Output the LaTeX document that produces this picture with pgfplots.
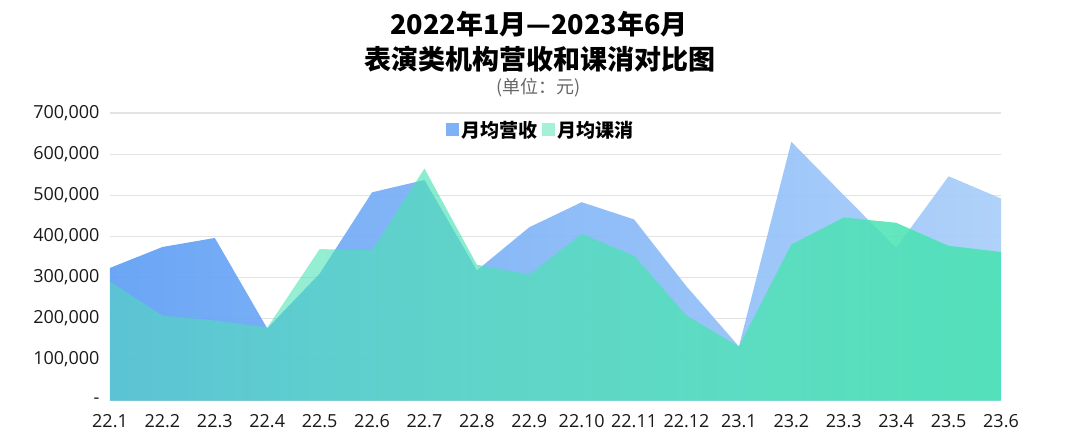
\documentclass[border=0pt]{standalone}
\usepackage{fontspec}
\setmainfont{Noto Sans CJK SC}
\newfontfamily\tickfont{Open Sans}
\usepackage{pgfplots}
\pgfplotsset{compat=1.18}
\usetikzlibrary{fadings}

\definecolor{revblueL}{HTML}{5E9EF4}
\definecolor{revblueR}{HTML}{A9CEF9}
\definecolor{consgreen}{HTML}{4CE2B4}
\definecolor{gridgray}{HTML}{E3E3E3}
\definecolor{subgray}{HTML}{666666}

% green area: more see-through on the left, nearly solid on the right
\tikzfading[name=greenfade, left color=transparent!50, right color=transparent!8]

\begin{document}
\begin{tikzpicture}
\path (-110pt,-44.3pt) rectangle (970pt,400.7pt);

\node[font=\bfseries\fontsize{27}{27}\selectfont] at (429pt,376.7pt) {2022年1月—2023年6月};
\node[font=\bfseries\fontsize{27}{27}\selectfont] at (430pt,341.7pt) {表演类机构营收和课消对比图};
\node[font=\fontsize{18}{18}\selectfont, text=subgray] at (428.5pt,312.7pt) {(单位：元)};

\begin{axis}[
    at={(0pt,0pt)}, anchor=south west,
    scale only axis, width=891pt, height=287.7pt,
    xmin=0, xmax=17, ymin=0, ymax=700000,
    axis line style={draw=none},
    tick style={draw=none},
    ymajorgrids=true,
    grid style={gridgray, line width=1.2pt},
    scaled y ticks=false,
    xtick={0,...,17},
    xticklabels={22.1,22.2,22.3,22.4,22.5,22.6,22.7,22.8,22.9,22.10,22.11,22.12,23.1,23.2,23.3,23.4,23.5,23.6},
    ytick={0,100000,200000,300000,400000,500000,600000,700000},
    yticklabels={{-},{100,000},{200,000},{300,000},{400,000},{500,000},{600,000},{700,000}},
    ticklabel style={font=\tickfont\fontsize{18}{18}\selectfont, text=black!90},
    xticklabel shift=10pt,
    yticklabel shift=7pt,
    legend style={draw=none, fill=none, at={(0.4837,0.941)}, anchor=center,
        legend columns=-1, font=\bfseries\fontsize{19}{19}\selectfont,
        /tikz/every even column/.append style={column sep=3pt}},
    legend image code/.code={\fill[#1] (0pt,-6.5pt) rectangle (13pt,6.5pt);},
]
% 月均营收
\addplot[forget plot, draw=none, left color=revblueL, right color=revblueR, fill opacity=0.92]
coordinates {
    (0,323000) (1,374000) (2,396000) (3,176000) (4,309000) (5,507000)
    (6,537000) (7,317000) (8,422000) (9,483000) (10,441000) (11,278000)
    (12,132000) (13,630000) (14,500000) (15,372000) (16,546000) (17,492000)
} \closedcycle;
% 月均课消
\addplot[forget plot, draw=none, fill=consgreen, path fading=greenfade, fit fading=true]
coordinates {
    (0,290000) (1,207000) (2,195000) (3,178000) (4,369000) (5,366000)
    (6,565000) (7,331000) (8,307000) (9,406000) (10,353000) (11,207000)
    (12,132000) (13,380000) (14,446000) (15,433000) (16,377000) (17,362000)
} \closedcycle;

\addlegendimage{fill=revblueL!80!white, draw=none}
\addlegendentry{月均营收}
\addlegendimage{fill=consgreen!50!white, draw=none}
\addlegendentry{月均课消}
\end{axis}
\end{tikzpicture}
\end{document}
